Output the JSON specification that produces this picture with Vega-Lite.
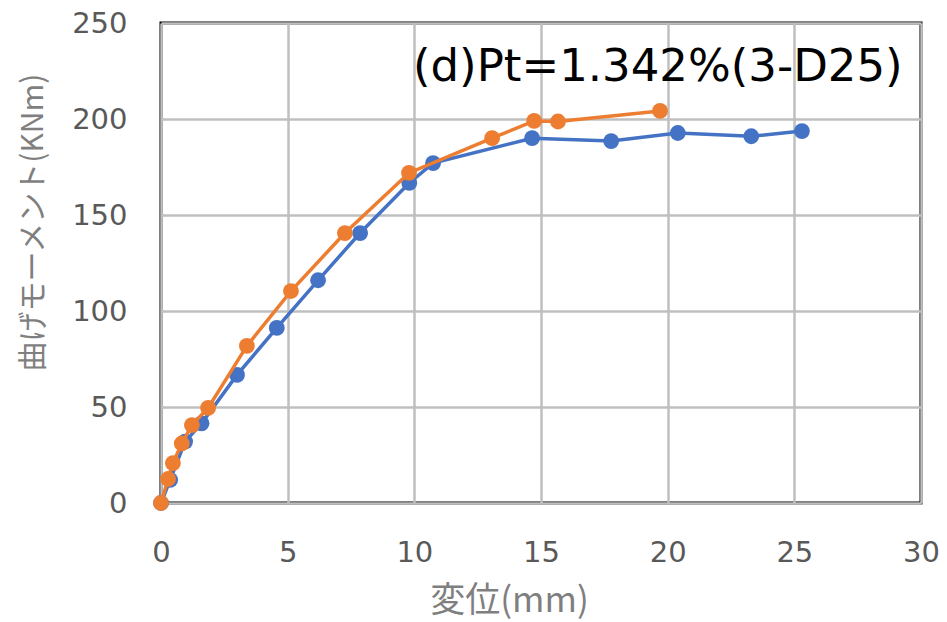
{
  "$schema": "https://vega.github.io/schema/vega-lite/v6.json",
  "autosize": "none",
  "width": 760,
  "height": 480,
  "padding": {"left": 161, "top": 23, "right": 26, "bottom": 119},
  "background": "white",
  "title": {
    "text": "(d)Pt=1.342%(3-D25)",
    "anchor": "start",
    "frame": "group",
    "orient": "top",
    "offset": 0,
    "dx": 252,
    "dy": 117,
    "baseline": "alphabetic",
    "font": "DejaVu Sans",
    "fontSize": 45,
    "fontWeight": "normal",
    "color": "#000000"
  },
  "config": {
    "view": {"stroke": "#000000", "strokeWidth": 3},
    "axis": {
      "domain": false,
      "ticks": false,
      "labelFlush": false,
      "gridColor": "#bfbfbf",
      "gridWidth": 2.5,
      "labelFont": "DejaVu Sans",
      "labelFontSize": 29,
      "labelColor": "#595959",
      "titleFont": "Noto Sans CJK JP",
      "titleFontSize": 30,
      "titleFontWeight": "normal",
      "titleColor": "#7f7f7f"
    }
  },
  "data": {
    "values": [
      {"series": "s1", "d": 0, "m": 0},
      {"series": "s1", "d": 0.36, "m": 12},
      {"series": "s1", "d": 0.95, "m": 32},
      {"series": "s1", "d": 1.6, "m": 41.5},
      {"series": "s1", "d": 3.0, "m": 66.7},
      {"series": "s1", "d": 4.57, "m": 91.2},
      {"series": "s1", "d": 6.2, "m": 116},
      {"series": "s1", "d": 7.86, "m": 140.6},
      {"series": "s1", "d": 9.8, "m": 166.7},
      {"series": "s1", "d": 10.74, "m": 177},
      {"series": "s1", "d": 14.65, "m": 190},
      {"series": "s1", "d": 17.77, "m": 188.5},
      {"series": "s1", "d": 20.4, "m": 192.7},
      {"series": "s1", "d": 23.3, "m": 191},
      {"series": "s1", "d": 25.3, "m": 193.7},
      {"series": "s2", "d": 0, "m": 0},
      {"series": "s2", "d": 0.28, "m": 12.5},
      {"series": "s2", "d": 0.47, "m": 20.8},
      {"series": "s2", "d": 0.82, "m": 31},
      {"series": "s2", "d": 1.22, "m": 40.6},
      {"series": "s2", "d": 1.86, "m": 49.5},
      {"series": "s2", "d": 3.39, "m": 81.8},
      {"series": "s2", "d": 5.13, "m": 110.4},
      {"series": "s2", "d": 7.26, "m": 140.6},
      {"series": "s2", "d": 9.79, "m": 171.9},
      {"series": "s2", "d": 13.07, "m": 190},
      {"series": "s2", "d": 14.73, "m": 199},
      {"series": "s2", "d": 15.67, "m": 198.7},
      {"series": "s2", "d": 19.7, "m": 204.2}
    ]
  },
  "encoding": {
    "x": {
      "field": "d",
      "type": "quantitative",
      "scale": {"domain": [0, 30], "nice": false, "zero": false},
      "axis": {
        "values": [0, 5, 10, 15, 20, 25, 30],
        "labelPadding": 35,
        "title": "変位(mm)",
        "titleFontSize": 35,
        "titleX": 348,
        "titleY": 97,
        "titleAlign": "center",
        "titleBaseline": "middle"
      }
    },
    "y": {
      "field": "m",
      "type": "quantitative",
      "scale": {"domain": [0, 250], "nice": false},
      "axis": {
        "values": [0, 50, 100, 150, 200, 250],
        "labelPadding": 34,
        "title": "曲げモーメント(KNm)",
        "titleX": -128,
        "titleY": 199,
        "titleAlign": "center",
        "titleBaseline": "middle"
      }
    },
    "color": {
      "field": "series",
      "type": "nominal",
      "scale": {"domain": ["s1", "s2"], "range": ["#4472c4", "#ed7d31"]},
      "legend": null
    }
  },
  "layer": [
    {
      "transform": [{"filter": "datum.series === 's1'"}],
      "mark": {"type": "line", "strokeWidth": 3.5}
    },
    {
      "transform": [{"filter": "datum.series === 's1'"}],
      "mark": {"type": "point", "filled": true, "opacity": 1, "size": 250}
    },
    {
      "transform": [{"filter": "datum.series === 's2'"}],
      "mark": {"type": "line", "strokeWidth": 3.5}
    },
    {
      "transform": [{"filter": "datum.series === 's2'"}],
      "mark": {"type": "point", "filled": true, "opacity": 1, "size": 250}
    }
  ]
}
